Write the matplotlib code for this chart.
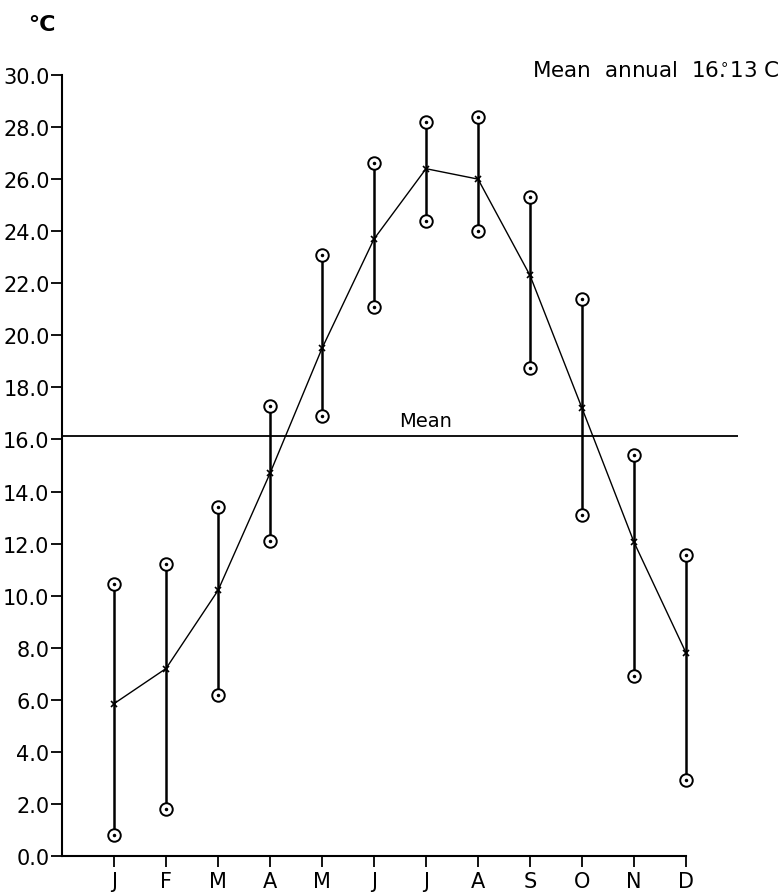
import matplotlib.pyplot as plt
import numpy as np

# monthly temperatures (deg C)
months = ['J', 'F', 'M', 'A', 'M', 'J', 'J', 'A', 'S', 'O', 'N', 'D']
t_mean = [5.85, 7.2, 10.2, 14.7, 19.5, 23.7, 26.4, 26.0, 22.3, 17.2, 12.05, 7.8]
t_max = [10.45, 11.2, 13.4, 17.3, 23.1, 26.6, 28.2, 28.4, 25.3, 21.4, 15.4, 11.55]
t_min = [0.8, 1.8, 6.2, 12.1, 16.9, 21.1, 24.4, 24.0, 18.75, 13.1, 6.9, 2.9]
annual_mean = 16.13
yticks = np.arange(0, 31, 2)

x = np.arange(1, len(months) + 1)

fig = plt.figure(figsize=(7.81, 8.95), dpi=100)
ax = fig.add_axes([0.0794, 0.0425, 0.8656, 0.8726])

# range bars
ax.vlines(x, t_min, t_max, color='black', lw=1.8, zorder=2)
ax.plot(x, t_max, 'o', ms=9, mfc='white', mec='black', mew=1.4, zorder=3)
ax.plot(x, t_min, 'o', ms=9, mfc='white', mec='black', mew=1.4, zorder=3)
ax.plot(x, t_max, '.', ms=3, color='black', zorder=4)
ax.plot(x, t_min, '.', ms=3, color='black', zorder=4)

# monthly means
ax.plot(x, t_mean, '-', color='black', lw=1.0, marker='x', ms=5, mew=1.2, zorder=3)

# annual mean line
ax.axhline(annual_mean, color='black', lw=1.3, zorder=1)
ax.text(7.0, annual_mean + 0.25, 'Mean', ha='center', va='bottom', fontsize=14)

ax.set_xlim(0, 13)
ax.set_ylim(0, 30)
ax.set_xticks(x)
ax.set_xticklabels(months, fontsize=15)
ax.set_yticks(yticks)
ax.set_yticklabels([f'{v:.1f}' for v in yticks], fontsize=15)
ax.tick_params(axis='both', direction='out', length=8, width=1.3, pad=3)
ax.tick_params(axis='y', pad=1)

ax.spines['top'].set_visible(False)
ax.spines['right'].set_visible(False)
ax.spines['bottom'].set_bounds(0, 12)
ax.spines['left'].set_linewidth(1.5)
ax.spines['bottom'].set_linewidth(1.5)

fig.text(0.036, 0.972, '°C', fontsize=16, fontweight='bold', ha='left', va='center')
fig.text(0.998, 0.921, r'Mean  annual  16$\overset{\circ}{.}$13 C', fontsize=15.5,
         ha='right', va='center')

fig.savefig('out.png', dpi=100)
